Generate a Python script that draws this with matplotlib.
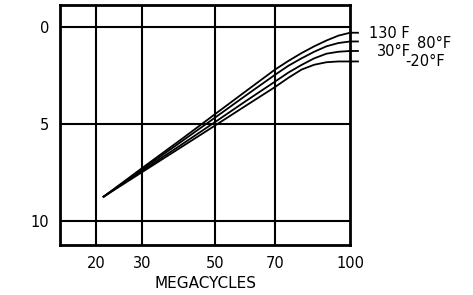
import numpy as np
import matplotlib
matplotlib.use("Agg")
import matplotlib.pyplot as plt

# frequency (megacycles) and curve values
freq = [21.5, 30, 40, 50, 60, 70, 75, 80, 85, 90, 95, 100, 103.5]
t_130 = [8.75, 7.27, 5.8, 4.48, 3.29, 2.2, 1.75, 1.35, 1.0, 0.7, 0.45, 0.3, 0.3]
t_80 = [8.75, 7.34, 5.92, 4.66, 3.51, 2.47, 2.0, 1.62, 1.28, 1.0, 0.83, 0.75, 0.75]
t_30 = [8.75, 7.41, 6.08, 4.89, 3.8, 2.82, 2.35, 1.96, 1.62, 1.38, 1.28, 1.24, 1.24]
t_m20 = [8.75, 7.48, 6.2, 5.07, 4.04, 3.1, 2.62, 2.2, 1.95, 1.82, 1.78, 1.78, 1.78]

xticks = [20, 30, 50, 70, 100]
yticks = [0, 5, 10]

W, H = 473, 295
fig = plt.figure(figsize=(W / 100, H / 100), dpi=100)
ax = fig.add_axes([60 / W, 1 - 245 / H, 290 / W, 240 / H])

ax.set_xscale('function', functions=(lambda x: np.sqrt(np.clip(x, 0, None)), lambda x: x ** 2))
ax.set_xlim(13.6, 100)
ax.set_ylim(11.24, -1.13)

for x in xticks[:-1]:
    ax.axvline(x, color='black', lw=1.5, zorder=1)
for y in yticks:
    ax.axhline(y, color='black', lw=1.5, zorder=1)

for vals in (t_130, t_80, t_30, t_m20):
    ax.plot(freq, vals, color='black', lw=1.3, clip_on=False, zorder=3)

ax.set_xticks(xticks)
ax.set_xticklabels([str(v) for v in xticks])
ax.set_yticks(yticks)
ax.set_yticklabels([str(v) for v in yticks])
ax.tick_params(length=0, labelsize=10.5, pad=8)
ax.xaxis.set_minor_locator(plt.NullLocator())
for s in ax.spines.values():
    s.set_linewidth(2)

fig.text(205 / W, 1 - 283 / H, 'MEGACYCLES', ha='center', va='center', fontsize=11)

def lab(x, y, s):
    fig.text(x / W, 1 - y / H, s, ha='left', va='center', fontsize=10.5)

lab(369, 33, '130 F')
lab(417, 43, '80°F')
lab(377, 52, '30°F')
lab(405, 62, '-20°F')

fig.savefig('out.png', dpi=100)
